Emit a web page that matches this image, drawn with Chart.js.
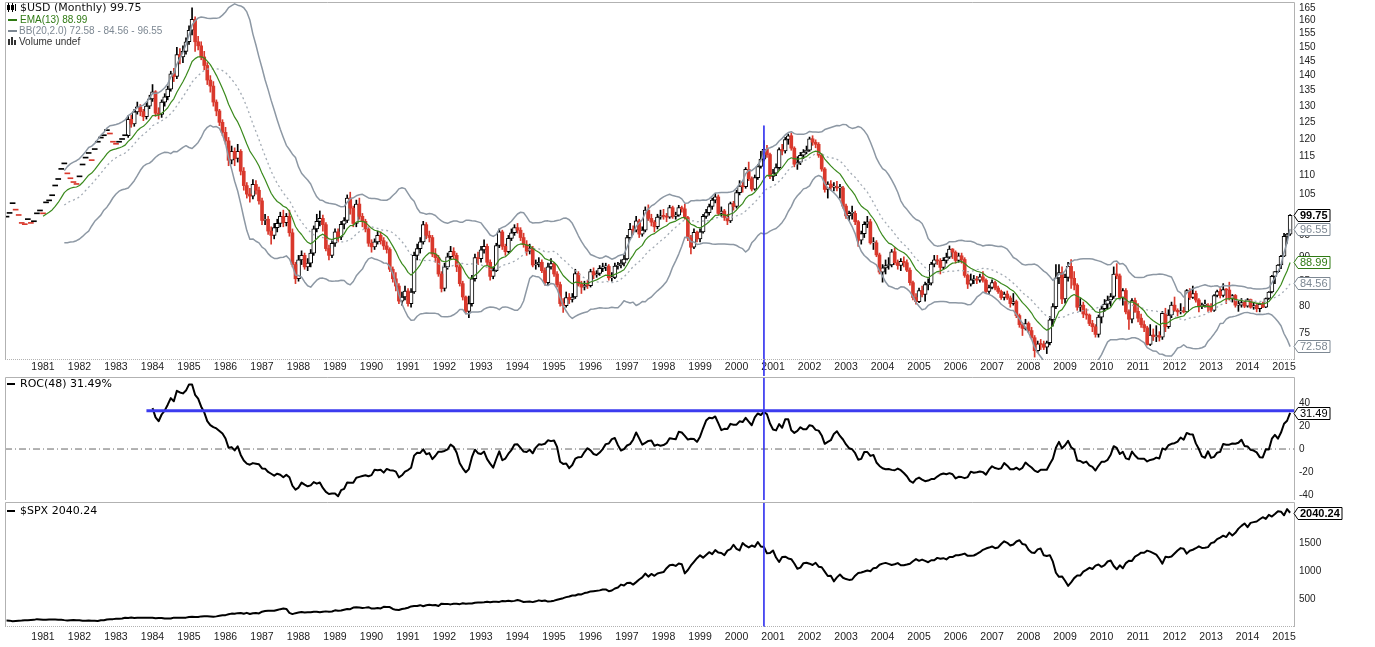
<!DOCTYPE html>
<html>
<head>
<meta charset="utf-8">
<script src="https://cdn.jsdelivr.net/npm/chart.js@4.4.1/dist/chart.umd.min.js"></script>
<style>
html, body { margin: 0; padding: 0; background: #fff; }
#wrap { position: relative; width: 1375px; height: 647px; overflow: hidden; }
#wrap canvas { position: absolute; left: 0; }
</style>
</head>
<body>
<div id="wrap">
<canvas id="cUsd" width="1375" height="376" style="top:0px"></canvas>
<canvas id="cRoc" width="1375" height="125" style="top:376px"></canvas>
<canvas id="cSpx" width="1375" height="147" style="top:500px"></canvas>
</div>
<script>
// ── Data (monthly, Jan 1980 .. Mar 2015) ─────────────────────────────────────
var firstYear = 1980;
var yearLabels = ['1981','1982','1983','1984','1985','1986','1987','1988','1989','1990','1991','1992',
                  '1993','1994','1995','1996','1997','1998','1999','2000','2001','2002','2003','2004',
                  '2005','2006','2007','2008','2009','2010','2011','2012','2013','2014','2015'];

var usdClose = [
    99.3,100.2,102.6,101.0,99.7,97.8,97.5,98.7,97.8,98.2,100.1,100.8,
    100.1,102.8,103.3,104.6,107.1,108.8,111.5,113.0,110.3,109.0,108.0,107.5,
    109.5,112.7,114.6,115.9,113.9,117.0,119.1,120.3,121.0,122.5,121.5,119.1,
    118.5,119.1,119.9,121.0,125.9,124.5,128.2,129.8,128.3,126.7,130.0,132.3,
    134.6,127.8,127.4,131.3,133.0,135.5,140.6,139.7,147.3,146.5,148.5,152.0,
    156.3,160.5,152.0,150.5,146.5,143.5,138.5,136.5,131.3,128.5,125.0,122.0,
    119.5,114.0,116.5,114.5,116.5,111.0,107.2,105.0,104.5,107.5,106.0,103.3,
    98.5,98.8,96.0,95.0,96.8,97.8,99.5,98.0,99.5,95.6,88.5,85.5,
    89.5,90.5,88.0,88.8,91.0,96.5,98.3,99.0,97.5,92.0,90.5,93.2,
    95.8,94.6,97.6,98.5,104.0,101.5,97.8,102.5,99.5,98.3,96.5,93.2,
    92.4,93.5,95.0,93.8,92.6,91.8,87.5,85.5,84.0,81.0,81.8,83.0,
    80.5,82.8,90.5,92.0,93.5,97.5,95.0,94.5,90.8,90.0,86.5,83.5,
    88.0,90.2,91.4,90.5,88.0,84.5,81.8,79.0,80.5,85.5,90.0,89.8,
    91.7,92.5,89.0,86.0,87.2,92.7,95.8,92.5,91.3,94.3,95.6,96.8,
    96.2,94.5,92.9,91.4,92.0,88.4,88.6,89.0,87.2,84.7,88.0,88.7,
    86.5,84.3,80.5,80.1,81.7,81.3,81.8,86.6,84.4,83.8,84.2,84.1,
    87.0,86.3,86.6,87.7,88.0,88.1,85.7,85.8,88.2,88.4,88.8,89.7,
    94.5,96.4,96.2,98.4,95.3,96.2,101.0,99.0,98.1,97.0,99.3,99.6,
    99.5,99.3,101.6,99.5,99.8,101.6,101.3,99.2,94.4,92.3,95.7,94.2,
    95.8,99.5,100.4,101.9,103.5,104.3,100.2,100.8,99.2,98.4,102.6,101.9,
    105.4,107.1,106.9,111.5,109.0,106.3,109.3,112.3,114.3,117.1,115.6,109.6,
    110.5,112.0,117.0,116.6,119.9,121.0,117.4,112.9,113.5,115.4,116.3,116.8,
    120.1,119.1,118.5,115.4,111.6,106.2,107.6,106.8,106.8,106.6,106.6,102.0,
    99.6,100.2,100.2,98.2,93.9,95.4,97.6,98.2,93.3,93.3,90.6,86.9,
    87.8,88.3,88.4,91.3,88.9,88.3,89.2,88.9,87.3,84.7,81.7,80.9,
    83.1,82.3,84.3,84.6,88.6,89.5,89.3,87.9,89.4,90.1,91.9,91.2,
    89.4,90.4,89.6,86.2,84.4,85.3,85.4,85.2,85.9,85.2,82.9,83.7,
    84.7,83.6,82.9,81.7,82.4,81.6,80.5,80.9,78.2,76.5,75.8,76.7,
    75.4,74.1,71.8,73.0,72.9,72.4,73.2,77.4,79.9,85.7,86.8,81.4,
    85.8,88.1,85.6,84.2,79.8,80.2,78.5,78.3,76.7,76.1,74.7,77.9,
    79.5,80.4,81.2,81.9,86.5,86.1,81.7,83.1,78.9,77.5,81.1,79.0,
    77.7,76.5,75.9,72.9,74.6,74.3,74.5,74.2,78.6,76.1,78.3,80.2,
    79.2,78.9,79.0,78.9,83.1,81.7,82.5,81.2,79.9,80.2,80.2,79.8,
    79.2,82.1,82.9,82.1,83.3,83.2,81.5,82.1,80.2,80.2,80.7,80.0,
    81.3,79.8,80.1,79.5,80.4,79.8,81.5,82.8,86.0,87.0,88.4,90.3,
    94.8,95.3,99.75
];

// full high/low bars start in May 1983 (before that only closes)
var ohlcFrom = 40;
var usdHigh = [
    127.0,127.2,129.0,131.3,130.5,129.0,131.0,133.5,
    137.0,135.0,129.5,132.0,134.0,136.5,141.5,142.5,150.0,149.5,150.5,153.5,
    158.0,165.0,161.5,154.0,152.0,148.5,144.5,140.0,138.0,132.0,129.0,125.8,
    123.5,120.5,118.0,117.5,118.5,117.0,112.0,108.0,106.5,108.8,108.5,106.8,
    104.0,100.0,99.5,97.0,97.8,98.8,100.5,101.0,100.2,101.0,96.5,89.0,
    90.5,91.5,91.0,89.8,91.8,97.2,100.0,100.8,99.8,98.0,92.8,94.0,
    96.5,96.5,98.3,99.2,104.8,105.5,102.0,103.5,104.0,100.2,98.8,97.0,
    94.0,94.2,96.0,95.8,94.5,93.5,92.2,88.0,86.8,84.5,82.8,84.0,
    83.5,83.5,91.2,93.0,94.5,98.3,98.0,96.0,95.0,92.0,90.5,87.0,
    88.8,91.0,92.5,92.2,91.0,88.5,85.0,82.0,82.0,86.2,90.8,91.2,
    92.5,94.0,93.0,89.5,88.0,93.2,96.5,96.2,93.0,95.0,96.5,97.5,
    97.8,96.8,95.5,93.8,93.0,92.5,89.5,90.0,89.5,87.8,88.8,89.8,
    89.0,87.0,84.8,81.5,82.8,82.5,82.5,87.5,87.0,85.0,85.0,85.2,
    87.5,87.8,87.2,88.3,88.8,88.8,88.5,86.8,88.8,89.0,89.5,90.5,
    95.0,97.8,97.2,99.5,98.8,97.0,101.8,102.3,100.0,98.5,100.0,101.0,
    101.2,100.2,102.2,102.0,100.5,102.2,102.0,102.5,99.5,95.0,96.5,96.0,
    96.5,100.0,101.2,102.5,104.0,105.2,104.8,101.8,101.2,100.0,103.0,103.2,
    106.0,108.5,108.0,112.0,113.5,109.5,110.0,112.8,116.5,119.6,118.2,116.0,
    111.5,113.0,117.5,118.5,120.5,121.5,121.8,117.8,115.0,116.2,117.0,118.0,
    120.6,121.0,119.8,119.0,115.8,112.0,108.2,108.5,108.0,108.3,107.5,107.0,
    102.5,100.8,102.0,100.8,98.5,96.0,98.2,99.5,98.8,94.5,93.8,91.0,
    88.5,89.5,90.0,91.8,92.2,89.5,89.8,90.2,89.5,87.8,85.0,82.5,
    83.6,84.0,84.8,85.5,89.0,90.5,90.5,89.8,90.0,91.0,92.6,92.0,
    91.5,91.0,91.0,90.0,86.5,86.5,86.2,86.0,86.5,87.0,85.5,84.2,
    85.3,85.0,84.0,83.2,82.8,83.0,82.0,82.5,81.2,78.5,76.8,77.5,
    77.0,76.0,74.5,73.5,73.8,73.5,73.5,78.0,80.5,88.5,88.5,88.0,
    86.5,89.0,89.6,87.0,84.5,81.5,80.8,79.5,78.5,77.3,76.5,78.3,
    80.0,81.3,82.0,82.5,88.0,88.7,86.5,83.5,83.5,79.3,81.5,81.6,
    80.5,78.5,77.2,76.2,76.5,75.7,76.3,75.2,79.0,79.6,79.3,80.8,
    81.8,79.5,80.5,79.8,83.3,83.5,84.0,83.0,81.5,80.6,81.2,80.5,
    80.5,82.3,83.2,83.5,84.5,83.5,84.8,82.3,82.3,81.0,81.5,81.0,
    81.5,81.4,80.6,80.6,80.6,80.8,81.6,82.9,86.2,87.0,88.5,90.5,
    95.5,95.5,99.9
];
var usdLow = [
    120.5,123.5,123.8,127.5,127.0,125.5,126.0,129.2,
    131.5,126.8,126.0,126.5,130.0,132.0,134.8,138.0,139.0,144.0,144.5,147.5,
    151.0,154.5,148.5,149.0,145.5,142.0,137.0,134.5,130.0,127.0,124.0,121.0,
    118.5,112.5,113.0,112.5,113.5,110.0,106.0,104.0,103.0,103.8,105.0,102.5,
    97.5,97.5,95.2,93.0,94.2,95.8,97.0,97.0,97.2,94.8,88.0,84.5,
    85.0,88.5,87.5,87.2,88.0,90.5,95.8,97.2,96.0,91.5,89.5,90.0,
    92.5,93.5,94.0,96.5,98.0,100.0,97.0,97.0,98.8,97.0,95.8,92.5,
    91.2,91.8,93.0,93.0,91.8,91.0,87.0,84.8,83.0,80.5,80.2,81.2,
    80.0,79.8,82.5,89.5,91.0,93.0,94.2,93.5,90.2,89.0,86.0,82.8,
    83.0,87.5,89.8,89.8,87.0,84.0,81.2,78.5,77.8,80.0,85.0,88.5,
    89.0,91.0,88.5,85.2,85.5,87.0,92.2,91.8,90.5,91.0,93.8,95.0,
    95.5,93.8,92.3,90.5,90.8,88.0,87.5,88.0,86.8,84.2,84.2,87.5,
    86.0,83.8,80.0,78.8,79.8,80.5,80.8,81.5,84.0,82.5,83.2,83.5,
    83.8,85.5,85.8,86.2,87.0,87.2,85.2,85.0,85.5,87.5,87.8,88.2,
    89.5,94.0,95.2,95.8,94.5,94.8,95.8,98.5,97.2,95.8,96.5,98.8,
    98.8,98.2,99.0,99.0,98.8,99.5,100.5,98.8,93.8,90.8,92.0,93.5,
    93.5,95.5,99.0,99.8,101.2,102.8,99.8,99.5,98.5,97.5,98.0,101.0,
    101.5,104.8,105.5,106.5,108.5,105.8,106.0,108.8,111.8,113.8,114.8,109.0,
    108.5,109.8,111.5,115.5,116.0,118.5,116.8,112.2,111.5,112.8,114.5,115.8,
    116.5,118.2,117.5,114.8,111.0,105.5,104.0,106.0,105.8,105.8,104.0,101.5,
    99.0,98.5,98.8,97.5,92.5,93.0,94.5,96.8,93.0,91.8,90.2,86.5,
    84.8,86.5,87.5,88.0,88.5,87.5,87.2,88.0,87.0,84.2,81.2,80.4,
    80.7,81.8,81.0,83.2,84.2,88.0,88.5,86.5,87.5,88.8,89.8,89.8,
    88.8,89.0,88.8,85.8,83.5,84.0,84.5,84.5,84.8,84.8,82.5,82.3,
    83.4,83.2,82.5,81.3,81.2,81.3,79.8,80.2,77.8,76.0,74.5,75.5,
    75.0,73.8,70.7,71.5,72.0,72.0,71.3,72.8,76.2,79.5,84.5,80.5,
    80.6,85.0,83.5,83.2,79.2,79.0,77.8,77.5,76.3,75.2,74.2,74.2,
    76.8,79.0,79.5,80.0,81.5,85.5,81.3,80.2,78.5,75.6,76.8,78.8,
    77.0,76.0,75.2,72.8,72.7,73.6,73.4,73.5,73.8,75.2,75.8,77.8,
    79.0,78.1,78.5,78.7,78.8,81.3,81.5,80.8,78.9,79.5,79.8,79.0,
    78.9,79.0,81.8,81.6,81.8,80.5,81.2,80.8,79.8,79.0,79.8,79.7,
    79.8,79.6,79.4,78.9,78.9,79.7,79.7,81.3,82.6,84.5,86.8,87.6,
    90.2,93.2,95.0
];

var spxClose = [
    114.2,113.7,102.1,106.3,111.2,114.2,121.7,122.4,125.5,127.5,140.5,135.8,
    129.6,131.3,136.0,132.8,132.6,131.2,130.9,122.8,116.2,121.9,126.4,122.6,
    120.4,113.1,112.0,116.4,111.9,109.6,107.1,119.5,120.4,133.7,138.5,140.6,
    145.3,148.1,153.0,164.4,162.4,168.1,162.6,164.4,166.1,163.6,166.4,164.9,
    163.4,157.1,159.2,160.1,150.6,153.2,150.7,166.7,166.1,166.1,163.6,167.2,
    179.6,181.2,180.7,179.8,189.6,191.9,190.9,188.6,182.1,189.8,202.2,211.3,
    211.8,226.9,238.9,235.5,247.4,250.8,236.1,252.9,231.3,244.0,249.2,242.2,
    274.1,284.2,291.7,288.4,290.1,304.0,318.7,329.8,321.8,251.8,230.3,247.1,
    257.1,267.8,258.9,261.3,262.2,273.5,272.0,261.5,271.9,279.0,273.7,277.7,
    297.5,288.9,294.9,309.6,320.5,318.0,346.1,351.5,349.2,340.4,346.0,353.4,
    329.1,331.9,339.9,330.8,361.2,358.0,356.2,322.6,306.1,304.0,322.2,330.2,
    343.9,367.1,375.2,375.3,389.8,371.2,387.8,395.4,387.9,392.5,375.2,417.1,
    408.8,412.7,403.7,415.0,415.4,408.1,424.2,414.0,417.8,418.7,431.4,435.7,
    438.8,443.4,451.7,440.2,450.2,450.5,448.1,463.6,458.9,467.8,461.8,466.5,
    481.6,467.1,445.8,450.9,456.5,444.3,458.3,475.5,462.7,472.4,453.7,459.3,
    470.4,487.4,500.7,514.7,533.4,544.8,562.1,561.9,584.4,581.5,605.4,615.9,
    636.0,640.4,645.5,654.2,669.1,670.6,640.0,652.0,687.3,705.3,757.0,740.7,
    786.2,790.8,757.1,801.3,848.3,885.1,954.3,899.5,947.3,914.6,955.4,970.4,
    980.3,1049.3,1101.8,1111.8,1090.8,1133.8,1120.7,957.3,1017.0,1098.7,1163.6,1229.2,
    1279.6,1238.3,1286.4,1335.2,1301.8,1372.7,1328.7,1320.4,1282.7,1362.9,1388.9,1469.3,
    1394.5,1366.4,1498.6,1452.4,1420.6,1454.6,1430.8,1517.7,1436.5,1429.4,1315.0,1320.3,
    1366.0,1239.9,1160.3,1249.5,1255.8,1224.4,1211.2,1133.6,1040.9,1059.8,1139.5,1148.1,
    1130.2,1106.7,1147.4,1076.9,1067.1,989.8,911.6,916.1,815.3,885.8,936.3,879.8,
    855.7,841.2,848.2,916.9,963.6,974.5,990.3,1008.0,996.0,1050.7,1058.2,1111.9,
    1131.1,1144.9,1126.2,1107.3,1120.7,1140.8,1101.7,1104.2,1114.6,1130.2,1173.8,1211.9,
    1181.3,1203.6,1180.6,1156.9,1191.5,1191.3,1234.2,1220.3,1228.8,1207.0,1249.5,1248.3,
    1280.1,1280.7,1294.9,1310.6,1270.1,1270.2,1276.7,1303.8,1335.9,1377.9,1400.6,1418.3,
    1438.2,1406.8,1420.9,1482.4,1530.6,1503.4,1455.3,1474.0,1526.8,1549.4,1481.1,1468.4,
    1378.6,1330.6,1322.7,1385.6,1400.4,1280.0,1267.4,1282.8,1166.4,968.8,896.2,903.3,
    825.9,735.1,797.9,872.8,919.1,919.3,987.5,1020.6,1057.1,1036.2,1095.6,1115.1,
    1073.9,1104.5,1169.4,1186.7,1089.4,1030.7,1101.6,1049.3,1141.2,1183.3,1180.6,1257.6,
    1286.1,1327.2,1325.8,1363.6,1345.2,1320.6,1292.3,1218.9,1131.4,1253.3,1247.0,1257.6,
    1312.4,1365.7,1408.5,1397.9,1310.3,1362.2,1379.3,1406.6,1440.7,1412.2,1416.2,1426.2,
    1498.1,1514.7,1569.2,1597.6,1630.7,1606.3,1685.7,1633.0,1681.6,1756.5,1805.8,1848.4,
    1782.6,1859.5,1872.3,1884.0,1923.6,1960.2,1930.7,2003.4,1972.3,2018.1,2067.6,2058.9,
    1995.0,2104.5,2040.24
];

// axis ticks and value tags
var usdTicks = [75,80,85,90,95,100,105,110,115,120,125,130,135,140,145,150,155,160,165];
var rocTicks = [-40,-20,0,20,40];
var spxTicks = [500,1000,1500,2000];
var usdTagVals   = [99.75, 96.55, 88.99, 84.56, 72.58];
var usdTagColors = ['#000', '#7d8893', '#2f7a13', '#7d8893', '#7d8893'];
var rocTagVals = [31.49];
var spxTagVals = [2040.24];

// annotations drawn on the original
var markerMonth = 249;      // Oct 2000
var markerTop = 124;
var rocLevel = 33.3;
var rocLevelFrom = 46;

// ── Styles ───────────────────────────────────────────────────────────────────
var RED = '#d9382c';
var BLUE = '#3b3bef';
var axisFont = '"Liberation Sans", Arial, sans-serif';
var legendFont = '11px "DejaVu Sans", Verdana, sans-serif';
var legendSmall = '10px "Liberation Sans", Arial, sans-serif';
var xMin = -0.5, xMax = 423.6;

// ── Indicators ───────────────────────────────────────────────────────────────
function ema(src, n) {
    var k = 2 / (n + 1), out = [], prev = null, s = 0;
    for (var i = 0; i < src.length; i++) {
        if (i < n - 1) { s += src[i]; out.push(null); continue; }
        if (i === n - 1) { s += src[i]; prev = s / n; }
        else prev = src[i] * k + prev * (1 - k);
        out.push(prev);
    }
    return out;
}
function bollinger(src, n, mult) {
    var mid = [], up = [], lo = [];
    for (var i = 0; i < src.length; i++) {
        if (i < n - 1) { mid.push(null); up.push(null); lo.push(null); continue; }
        var s = 0, j;
        for (j = i - n + 1; j <= i; j++) s += src[j];
        var m = s / n, v = 0;
        for (j = i - n + 1; j <= i; j++) v += (src[j] - m) * (src[j] - m);
        var sd = Math.sqrt(v / n);
        mid.push(m); up.push(m + mult * sd); lo.push(m - mult * sd);
    }
    return { mid: mid, up: up, lo: lo };
}
function roc(src, n) {
    return src.map(function (v, i) { return i < n ? null : (v / src[i - n] - 1) * 100; });
}
function series(values) {
    var out = [];
    values.forEach(function (v, i) { if (v !== null) out.push({ x: i, y: v }); });
    return out;
}

var usdEma = ema(usdClose, 13);
var usdBB  = bollinger(usdClose, 20, 2);
var usdRoc = roc(usdClose, 48);

// ── Candles as floating bars ─────────────────────────────────────────────────
var wickData = [], wickColors = [], upData = [], downData = [], dashData = [], dashColors = [];
usdClose.forEach(function (c, i) {
    var o = i === 0 ? c : usdClose[i - 1];
    if (i < ohlcFrom) {
        dashData.push({ x: i, y: [c, c] });
        dashColors.push(c < o ? RED : '#000');
        return;
    }
    var h = usdHigh[i - ohlcFrom], l = usdLow[i - ohlcFrom];
    wickData.push({ x: i, y: [l, h] });
    wickColors.push(c < o ? RED : '#000');
    if (c >= o) upData.push({ x: i, y: [o, c] });
    else downData.push({ x: i, y: [c, o] });
});

// ── Axes ─────────────────────────────────────────────────────────────────────
function xAxis(show, height, pad) {
    return {
        type: 'linear', min: xMin, max: xMax, offset: false, display: show,
        grid: { display: false, drawTicks: false }, border: { display: false },
        ticks: {
            autoSkip: false, maxRotation: 0, padding: pad, color: '#222',
            font: { family: axisFont, size: 10.5 },
            callback: function (v, i) { return yearLabels[i]; }
        },
        afterBuildTicks: function (s) {
            s.ticks = yearLabels.map(function (y) { return { value: (parseInt(y, 10) - firstYear) * 12 }; });
        },
        afterFit: function (s) { s.height = height; s.paddingLeft = 0; s.paddingRight = 0; }
    };
}
function yAxis(type, min, max, ticks) {
    return {
        type: type, position: 'right', min: min, max: max, bounds: 'data',
        grid: { display: false, drawTicks: false }, border: { display: false },
        ticks: {
            padding: 4, color: '#222', autoSkip: false,
            font: { family: axisFont, size: 10 },
            callback: function (v) { return String(v); }
        },
        afterBuildTicks: function (s) { s.ticks = ticks.map(function (v) { return { value: v }; }); },
        afterFit: function (s) { s.width = 80; s.paddingTop = 0; s.paddingBottom = 0; }
    };
}
function lineSet(data, color, width, dash, order) {
    return {
        type: 'line', data: data, borderColor: color, borderWidth: width, borderDash: dash || [],
        pointRadius: 0, fill: false, tension: 0, order: order, borderJoinStyle: 'round'
    };
}
function barSet(data, color, border, thick, order) {
    return {
        type: 'bar', data: data, backgroundColor: color, borderColor: border || color,
        borderWidth: border ? 1 : 0, borderSkipped: false, barThickness: thick,
        minBarLength: 1, grouped: false, order: order
    };
}

// ── Decoration: borders, legends, value tags ─────────────────────────────────
function drawTag(ctx, x, y, text, color, bold) {
    ctx.font = (bold ? 'bold ' : '') + '11px ' + axisFont;
    var w = Math.round(ctx.measureText(text).width) + 4, h = 12, left = x + 4;
    y = Math.round(y) + 0.5;
    ctx.beginPath();
    ctx.moveTo(x, y);
    ctx.lineTo(left, y - h / 2);
    ctx.lineTo(left + w, y - h / 2);
    ctx.lineTo(left + w, y + h / 2);
    ctx.lineTo(left, y + h / 2);
    ctx.closePath();
    ctx.fillStyle = '#fff'; ctx.fill();
    ctx.strokeStyle = color; ctx.lineWidth = 1; ctx.setLineDash([]); ctx.stroke();
    ctx.fillStyle = color; ctx.textBaseline = 'middle'; ctx.textAlign = 'left';
    ctx.fillText(text, left + 2, y + 0.5);
}
function panelPlugin(id, bottomStyle, legend, tags) {
    return {
        id: id,
        afterDraw: function (chart) {
            var a = chart.chartArea, ctx = chart.ctx, ys = chart.scales.y;
            ctx.save();
            ctx.strokeStyle = '#b2b2b2'; ctx.lineWidth = 1;
            ctx.beginPath();
            ctx.moveTo(a.left + 0.5, a.bottom); ctx.lineTo(a.left + 0.5, a.top + 0.5);
            ctx.lineTo(a.right - 0.5, a.top + 0.5); ctx.lineTo(a.right - 0.5, a.bottom);
            ctx.stroke();
            if (bottomStyle === 'dotted') {
                ctx.setLineDash([1, 1]);
                ctx.beginPath(); ctx.moveTo(a.left, a.bottom - 0.5); ctx.lineTo(a.right, a.bottom - 0.5); ctx.stroke();
                ctx.setLineDash([]);
            }
            ctx.font = legendFont; ctx.textBaseline = 'middle'; ctx.textAlign = 'left';
            legend(ctx, a);
            tags.forEach(function (t) { drawTag(ctx, a.right - 1, ys.getPixelForValue(t.v), t.text, t.color, t.bold); });
            ctx.restore();
        }
    };
}

// ── Panel 1: $USD candles, EMA, Bollinger ────────────────────────────────────
new Chart(document.getElementById('cUsd'), {
    type: 'bar',
    data: {
        datasets: [
            barSet(wickData, wickColors, null, 1, 6),
            barSet(dashData, dashColors, null, 5, 5),
            barSet(downData, RED, null, 3, 5),
            barSet(upData, '#fff', '#000', 4, 5),
            lineSet(series(usdBB.up), '#8d98a4', 1.5, null, 3),
            lineSet(series(usdBB.lo), '#8d98a4', 1.5, null, 3),
            lineSet(series(usdBB.mid), '#a3abb4', 1.3, [2, 3], 3),
            lineSet(series(usdEma), '#3a8a1c', 1.2, null, 2),
            Object.assign(lineSet([{ x: markerMonth, y: markerTop }, { x: markerMonth, y: 67.4 }], BLUE, 1, null, 1), { clip: false })
        ]
    },
    options: {
        responsive: false, animation: false, devicePixelRatio: 1,
        layout: { padding: { left: 5, top: 2, right: 0, bottom: 0 } },
        plugins: { legend: { display: false }, tooltip: { enabled: false } },
        scales: { x: xAxis(true, 16, 1), y: yAxis('logarithmic', 70.2, 167.4, usdTicks) }
    },
    plugins: [panelPlugin('usdPanel', 'dotted', function (ctx) {
        // candle glyph
        ctx.fillStyle = '#000';
        ctx.fillRect(8, 3, 1, 9); ctx.strokeStyle = '#000'; ctx.strokeRect(7.5, 5.5, 2, 4);
        ctx.fillRect(12, 3, 1, 9); ctx.fillRect(11, 5, 3, 5);
        ctx.fillRect(15, 4, 1, 7);
        ctx.fillStyle = '#111'; ctx.fillText('$USD (Monthly) 99.75', 20, 8.5);
        ctx.font = legendSmall;
        ctx.fillStyle = '#2f7a13'; ctx.fillRect(8, 19, 9, 2); ctx.fillText('EMA(13) 88.99', 20, 20);
        ctx.fillStyle = '#7d8893'; ctx.fillRect(8, 30, 9, 2); ctx.fillText('BB(20,2.0) 72.58 - 84.56 - 96.55', 19, 31);
        ctx.fillStyle = '#333'; ctx.fillRect(8, 39, 2, 6); ctx.fillRect(11, 37, 2, 8); ctx.fillRect(14, 40, 2, 5);
        ctx.fillText('Volume undef', 19, 42);
    }, usdTagVals.map(function (v, i) {
        return { v: v, text: v.toFixed(2), color: usdTagColors[i], bold: i === 0 };
    }))]
});

// ── Panel 2: ROC(48) ─────────────────────────────────────────────────────────
new Chart(document.getElementById('cRoc'), {
    type: 'line',
    data: {
        datasets: [
            lineSet([{ x: xMin, y: 0 }, { x: xMax, y: 0 }], '#666', 1, [7, 3, 1, 3], 4),
            lineSet(series(usdRoc), '#000', 2, null, 3),
            lineSet([{ x: rocLevelFrom, y: rocLevel }, { x: xMax, y: rocLevel }], BLUE, 3, null, 2),
            lineSet([{ x: markerMonth, y: 70 }, { x: markerMonth, y: -50 }], BLUE, 1, null, 1)
        ]
    },
    options: {
        responsive: false, animation: false, devicePixelRatio: 1,
        layout: { padding: { left: 5, top: 1, right: 0, bottom: 1 } },
        plugins: { legend: { display: false }, tooltip: { enabled: false } },
        scales: { x: xAxis(false, 0, 0), y: yAxis('linear', -44.3, 62.6, rocTicks) }
    },
    plugins: [panelPlugin('rocPanel', 'none', function (ctx) {
        ctx.fillStyle = '#000'; ctx.fillRect(7, 7, 8, 2);
        ctx.fillText('ROC(48) 31.49%', 20, 8);
    }, rocTagVals.map(function (v) { return { v: v, text: v.toFixed(2), color: '#000', bold: false }; }))]
});

// ── Panel 3: $SPX ────────────────────────────────────────────────────────────
new Chart(document.getElementById('cSpx'), {
    type: 'line',
    data: {
        datasets: [
            lineSet(series(spxClose), '#000', 2, null, 2),
            lineSet([{ x: markerMonth, y: 2400 }, { x: markerMonth, y: 0 }], BLUE, 1, null, 1)
        ]
    },
    options: {
        responsive: false, animation: false, devicePixelRatio: 1,
        layout: { padding: { left: 5, top: 2, right: 0, bottom: 0 } },
        plugins: { legend: { display: false }, tooltip: { enabled: false } },
        scales: { x: xAxis(true, 20, 4), y: yAxis('linear', 0, 2232, spxTicks) }
    },
    plugins: [panelPlugin('spxPanel', 'dotted', function (ctx) {
        ctx.fillStyle = '#000'; ctx.fillRect(7, 10, 8, 2);
        ctx.fillText('$SPX 2040.24', 20, 11);
    }, spxTagVals.map(function (v) { return { v: v, text: v.toFixed(2), color: '#000', bold: true }; }))]
});
</script>
</body>
</html>
